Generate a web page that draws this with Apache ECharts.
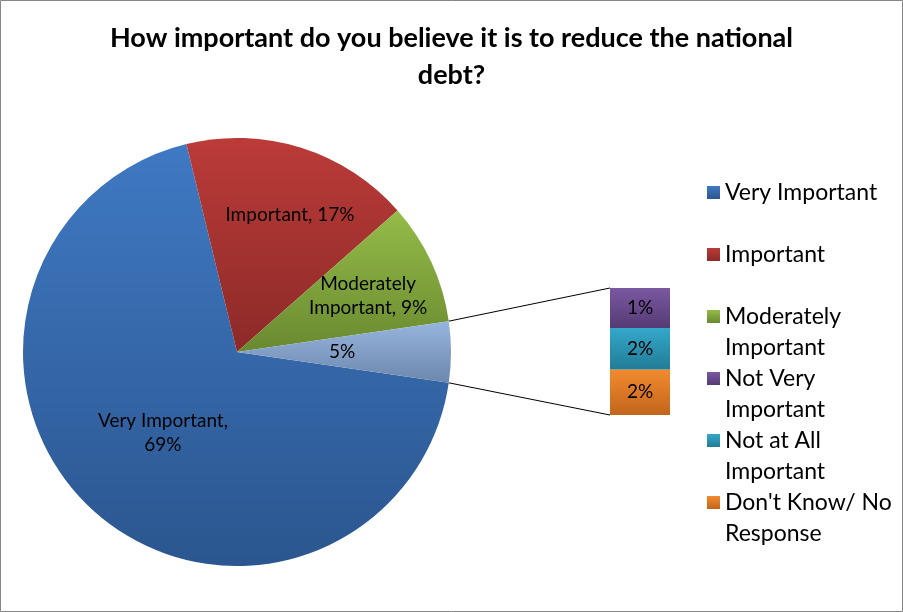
<!DOCTYPE html>
<html>
<head>
<meta charset="utf-8">
<script src="https://cdn.jsdelivr.net/npm/echarts@6/dist/echarts.min.js"></script>
<style>
  html, body { margin: 0; padding: 0; background: #fff; }
  #chart { width: 903px; height: 612px; }
</style>
</head>
<body>
<div id="chart"></div>
<script>
// pie slices (the last one, "Other", is the sum of the bar)
const pieNames = ['Very Important', 'Important', 'Moderately Important'];
const pieValues = [68.9, 17.3, 9.2];
// bar of pie, top to bottom
const barNames = ['Not Very Important', 'Not at All Important', "Don't Know/ No Response"];
const barValues = [1.45, 1.5, 1.65];
const legendNames = pieNames.concat(barNames);
// legend wraps like the original; blank lines keep the square on the first line
const legendText = {
  'Very Important': '\nVery Important\n',
  'Important': '\nImportant\n',
  'Moderately Important': '\nModerately\nImportant',
  'Not Very Important': '\nNot Very\nImportant',
  'Not at All Important': '\nNot at All\nImportant',
  "Don't Know/ No Response": "\nDon't Know/ No\nResponse"
};

const grad = (a, b) => new echarts.graphic.LinearGradient(0, 0, 0, 1, [
  { offset: 0, color: a }, { offset: 1, color: b }
]);
const colors = {
  'Very Important': grad('#3f79c3', '#2b568f'),
  'Important': grad('#bb3b38', '#8c2a28'),
  'Moderately Important': grad('#94bc48', '#6a8930'),
  'Other': grad('#97b5de', '#6d87ad'),
  'Not Very Important': grad('#7b58a2', '#553a74'),
  'Not at All Important': grad('#34a8ca', '#217c97'),
  "Don't Know/ No Response": grad('#f38b2f', '#c2651c')
};

const otherValue = barValues.reduce((s, v) => s + v, 0);
const total = pieValues.reduce((s, v) => s + v, 0) + otherValue;
const halfOther = otherValue / total * 180;

const cx = 237, cy = 352, R = 214;
const font = 'Lato, "Open Sans", sans-serif';

const pieData = pieNames.map((n, i) => ({ name: n, value: pieValues[i], itemStyle: { color: colors[n] } }))
  .concat([{ name: 'Other', value: otherValue, itemStyle: { color: colors['Other'] } }]);

const chart = echarts.init(document.getElementById('chart'));

const option = {
  animation: false,
  title: {
    text: 'How important do you believe it is to reduce the national\ndebt?',
    left: 'center',
    top: 15,
    textStyle: { fontFamily: font, fontSize: 27, fontWeight: 'bold', color: '#000', lineHeight: 37 }
  },
  legend: {
    orient: 'vertical',
    left: 707,
    top: 146,
    padding: 0,
    itemWidth: 13,
    itemHeight: 13,
    itemGap: -31,
    icon: 'rect',
    data: legendNames,
    formatter: n => legendText[n],
    textStyle: { fontFamily: font, fontSize: 23, color: '#000', lineHeight: 31 }
  },
  grid: { left: 610, top: 288, width: 60, height: 127 },
  xAxis: { type: 'category', data: [''], show: false },
  yAxis: { type: 'value', min: 0, max: otherValue, show: false },
  series: [
    {
      type: 'pie',
      center: [cx, cy],
      radius: R,
      startAngle: -halfOther,
      clockwise: true,
      percentPrecision: 0,
      avoidLabelOverlap: false,
      data: pieData.map((d, i) => Object.assign({}, d, { label: { show: i === 0 || i === 3 } })),
      label: {
        position: 'inside',
        fontFamily: font, fontSize: 19, color: '#000', lineHeight: 24,
        formatter: p => p.name === 'Other' ? p.percent + '%' : p.name + ',\n' + p.percent + '%'
      },
      labelLayout: p => (p.dataIndex === 3 ? { dx: -2.5 } : {}),
      labelLine: { show: false }
    },
    {
      // overlay ring only used to place the two upper labels further out
      type: 'pie',
      silent: true,
      center: [cx, cy],
      radius: [80, R],
      startAngle: -halfOther,
      clockwise: true,
      percentPrecision: 0,
      avoidLabelOverlap: false,
      itemStyle: { color: 'rgba(0,0,0,0)' },
      data: pieData.map((d, i) => ({ name: d.name, value: d.value, label: { show: i === 1 || i === 2 } })),
      label: {
        position: 'inside',
        fontFamily: font, fontSize: 19, color: '#000', lineHeight: 24,
        formatter: p => p.name === 'Important' ? 'Important, ' + p.percent + '%' : 'Moderately\nImportant, ' + p.percent + '%'
      },
      labelLayout: p => (p.dataIndex === 1 ? { dx: 4, dy: 3 } : p.dataIndex === 2 ? { dx: -2.5, dy: 3.5 } : {}),
      labelLine: { show: false }
    }
  ].concat(barNames.slice().reverse().map(n => ({
    type: 'bar',
    name: n,
    stack: 'other',
    barWidth: '100%',
    data: [barValues[barNames.indexOf(n)]],
    itemStyle: { color: colors[n] },
    label: {
      show: true, position: 'inside',
      fontFamily: font, fontSize: 19, color: '#000',
      formatter: p => Math.round(p.value) + '%'
    }
  })))
};

chart.setOption(option);

// connector lines from the "Other" slice to the bar
const rad = halfOther * Math.PI / 180;
const yTop = chart.convertToPixel({ yAxisIndex: 0 }, otherValue);
const yBot = chart.convertToPixel({ yAxisIndex: 0 }, 0);
const barLeft = chart.convertToPixel({ xAxisIndex: 0 }, 0) - 30;
chart.setOption({
  graphic: [
    { type: 'rect', shape: { x: 0.5, y: 0.5, width: 902, height: 611 }, style: { fill: 'none', stroke: '#868686', lineWidth: 1 } },
    { type: 'line', shape: { x1: cx + R * Math.cos(rad), y1: cy - R * Math.sin(rad), x2: barLeft, y2: yTop }, style: { stroke: '#000', lineWidth: 1 } },
    { type: 'line', shape: { x1: cx + R * Math.cos(rad), y1: cy + R * Math.sin(rad), x2: barLeft, y2: yBot }, style: { stroke: '#000', lineWidth: 1 } }
  ]
});
</script>
</body>
</html>
